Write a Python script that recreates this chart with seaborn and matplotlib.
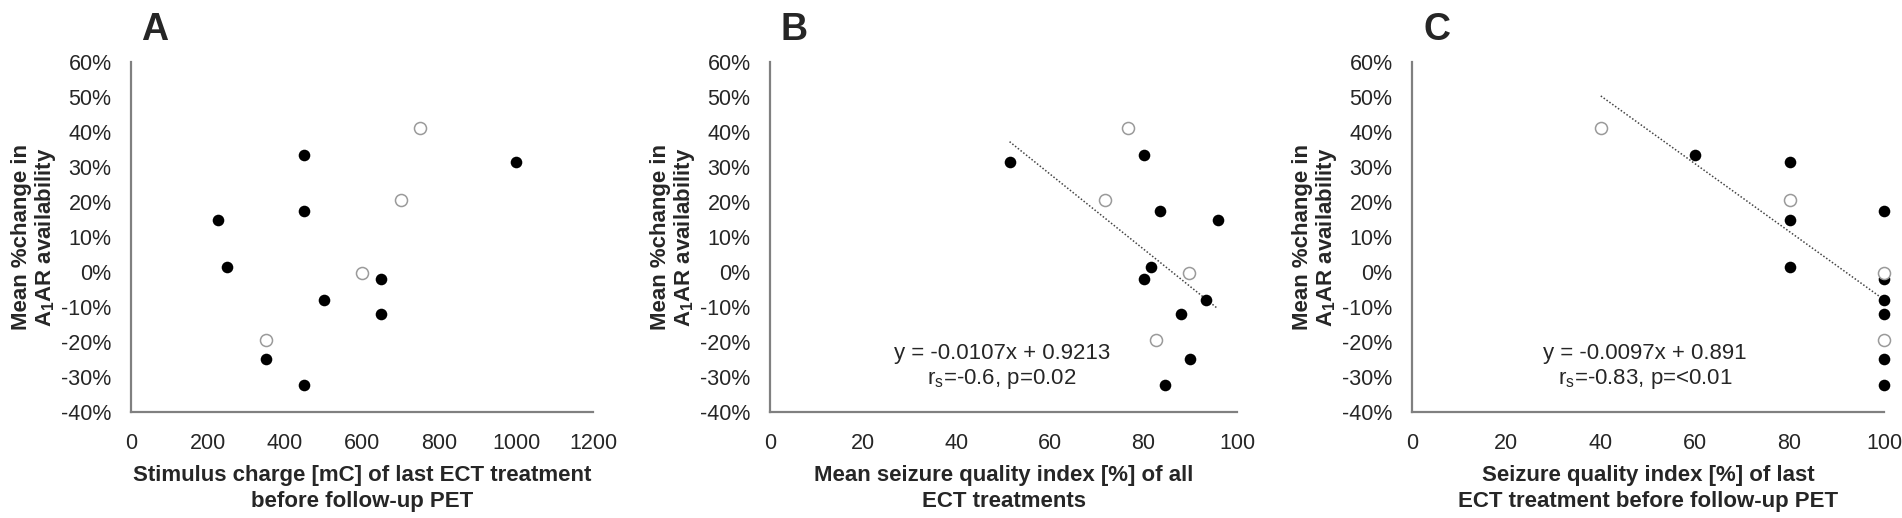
import matplotlib
matplotlib.use("Agg")
import matplotlib.pyplot as plt
from matplotlib.ticker import PercentFormatter
import seaborn as sns
import numpy as np
import pandas as pd

sns.set_style("white")
plt.rcParams['font.family'] = ['Liberation Sans', 'DejaVu Sans']
plt.rcParams['axes.unicode_minus'] = False

# mean % change in A1AR availability (fraction), one value per patient
change = [0.333, 0.315, 0.174, 0.149, 0.013, -0.019, -0.081, -0.119, -0.248, -0.323,
          0.411, 0.205, -0.004, -0.194]
# True = filled marker, False = open marker
filled = [True] * 10 + [False] * 4
stim_charge = [450, 1000, 450, 225, 250, 650, 500, 650, 350, 450,
               750, 700, 600, 350]
mean_sqi = [80.0, 51.3, 83.5, 95.9, 81.5, 80.0, 93.4, 88.1, 90.0, 84.6,
            76.7, 71.7, 89.7, 82.7]
last_sqi = [60, 80, 100, 80, 80, 100, 100, 100, 100, 100,
            40, 80, 100, 100]

# printed trend line equations
trend_b = (-0.0107, 0.9213)
trend_c = (-0.0097, 0.891)

df = pd.DataFrame({'change': change, 'filled': filled, 'stim': stim_charge,
                   'msqi': mean_sqi, 'lsqi': last_sqi})

W, H = 1902, 518
fig = plt.figure(figsize=(W / 100, H / 100), dpi=100)

panels = [
    dict(col='stim', left=131, right=593, xmax=1200, xstep=200, letter='A',
         xlabel='Stimulus charge [mC] of last ECT treatment\nbefore follow-up PET',
         trend=None, eq=None, eqx=0.5),
    dict(col='msqi', left=770, right=1237, xmax=100, xstep=20, letter='B',
         xlabel='Mean seizure quality index [%] of all\nECT treatments',
         trend=trend_b, eq='y = -0.0107x + 0.9213\nr$_\\mathregular{s}$=-0.6, p=0.02',
         eqx=0.497),
    dict(col='lsqi', left=1412, right=1884, xmax=100, xstep=20, letter='C',
         xlabel='Seizure quality index [%] of last\nECT treatment before follow-up PET',
         trend=trend_c, eq='y = -0.0097x + 0.891\nr$_\\mathregular{s}$=-0.83, p=<0.01',
         eqx=0.494),
]

top, bottom = 62, 412
for p in panels:
    ax = fig.add_axes([p['left'] / W, (H - bottom) / H,
                       (p['right'] - p['left']) / W, (bottom - top) / H])
    solid = df[df['filled']]
    hollow = df[~df['filled']]
    sns.scatterplot(data=solid, x=p['col'], y='change', ax=ax, s=70,
                    color='black', edgecolor='black', linewidth=0, zorder=3,
                    clip_on=False)
    sns.scatterplot(data=hollow, x=p['col'], y='change', ax=ax, s=75,
                    facecolor='white', edgecolor='#9a9a9a', linewidth=1.1, zorder=3,
                    clip_on=False)
    if p['trend'] is not None:
        m, b = p['trend']
        xs = np.array([df[p['col']].min(), df[p['col']].max()])
        sns.lineplot(x=xs, y=m * xs + b, ax=ax, color='#444444', lw=1.1,
                     linestyle=(0, (1, 1.3)), zorder=2)
        ax.text(p['eqx'], 0.128, p['eq'], transform=ax.transAxes, ha='center',
                va='center', fontsize=16, linespacing=1.2)

    ax.set_xlim(0, p['xmax'])
    ax.set_ylim(-0.4, 0.6)
    ax.set_xticks(np.arange(0, p['xmax'] + 1, p['xstep']))
    ax.set_yticks(np.linspace(-4, 6, 11) / 10)
    ax.yaxis.set_major_formatter(PercentFormatter(1.0, decimals=0))
    ax.tick_params(axis='both', length=0, labelsize=15.5)
    ax.tick_params(axis='y', pad=14)
    ax.tick_params(axis='x', pad=15)
    for s in ['top', 'right']:
        ax.spines[s].set_visible(False)
    for s in ['left', 'bottom']:
        ax.spines[s].set_color('#808080')
        ax.spines[s].set_linewidth(1.6)
    ax.set_xlabel(p['xlabel'], fontsize=16, fontweight='bold', labelpad=8,
                  linespacing=1.3)
    ax.set_ylabel('Mean %change in\nA$_\\mathregular{1}$AR availability', fontsize=16,
                  fontweight='bold', labelpad=2, linespacing=1.1)
    ax.text(0.052, 1.09, p['letter'], transform=ax.transAxes, ha='center',
            va='center', fontsize=27, fontweight='bold')

fig.savefig('out.png', dpi=100)
